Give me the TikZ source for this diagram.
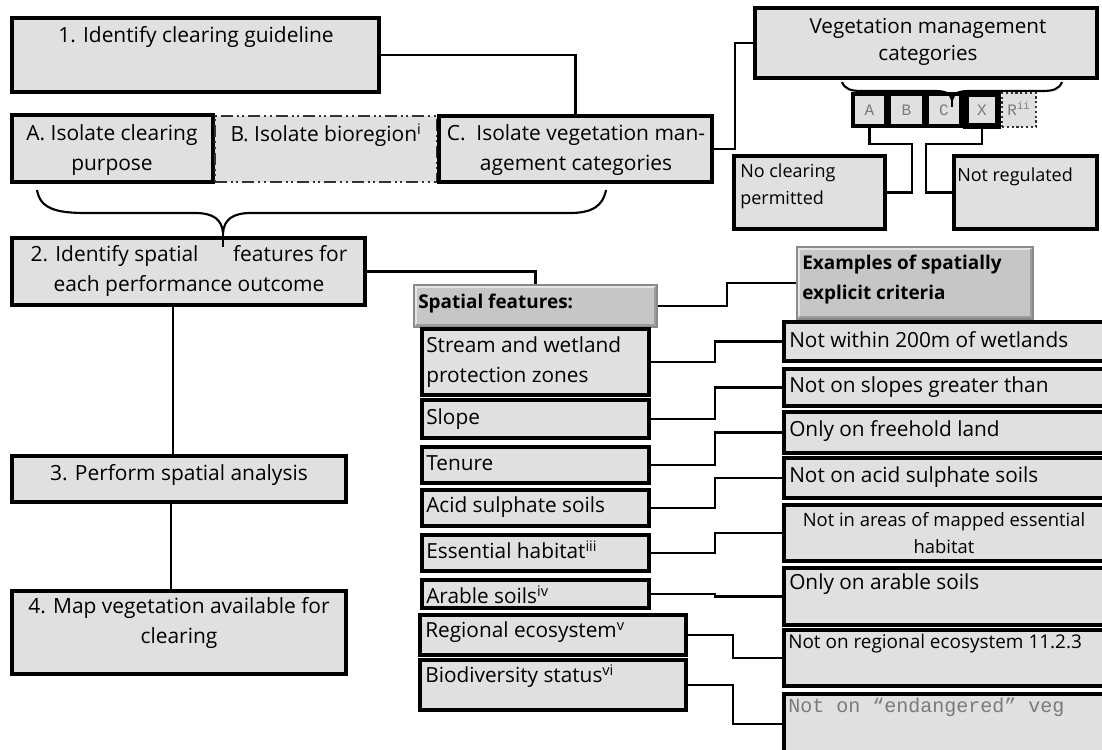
\documentclass[tikz,border=0pt]{standalone}
\usepackage{fontspec}
\setmainfont{Open Sans}
\newfontfamily\monofont{Liberation Mono}
\definecolor{boxfill}{HTML}{E0E0E0}
\definecolor{headfill}{HTML}{C6C6C6}
\definecolor{headline}{HTML}{8A8A8A}
\definecolor{headlight}{HTML}{E4E4E4}
\definecolor{headdark}{HTML}{9C9C9C}
\definecolor{monogray}{HTML}{7A7A7A}
% rectangle node given by the corners of its border line
\newcommand\mkbox[6]{%
  \node[#1, minimum width={(#5-#3)*0.75pt}, minimum height={(#6-#4)*0.75pt}]
    (#2) at ({(#3+#5)/2},{(#4+#6)/2}) {};}
\tikzset{
  stepbox/.style={draw=black, line width=3.2pt, fill=boxfill, inner sep=0pt},
  dashbox/.style={draw=black!80, line width=1.8pt, fill=boxfill, inner sep=0pt,
    dash pattern=on 9pt off 3pt on 1.5pt off 2.5pt on 1.5pt off 3pt},
  dotbox/.style={draw=black!80, line width=1.6pt, fill=boxfill, inner sep=0pt, dotted},
  headbox/.style={draw=headline, line width=1pt, fill=headfill, inner sep=0pt,
    path picture={
      \draw[headlight, line width=2.4pt]
        ([xshift=1.2pt,yshift=1.2pt]path picture bounding box.south west)
        |- ([xshift=-1.2pt,yshift=-1.2pt]path picture bounding box.north east);
      \draw[headdark, line width=2.4pt]
        ([xshift=1.2pt,yshift=1.2pt]path picture bounding box.south west)
        -| ([xshift=-1.2pt,yshift=-1.2pt]path picture bounding box.north east);
    }},
  conn/.style={line width=1.6pt, draw=black},
  bracepath/.style={line width=1.6pt, draw=black},
  txt/.style={inner sep=0pt, text=black, font=\fontsize{15.7}{22.5}\selectfont},
  itemtxt/.style={inner sep=0pt, text=black, anchor=west, align=left,
    font=\fontsize{15.6}{22.5}\selectfont},
  smalltxt/.style={inner sep=0pt, text=black, anchor=west, align=left,
    font=\fontsize{13.5}{20.25}\selectfont},
  headtxt/.style={inner sep=0pt, text=black, anchor=west, align=left,
    font=\fontsize{14.2}{22.5}\selectfont\bfseries},
  monotxt/.style={inner sep=0pt, text=monogray, font=\fontsize{12}{13}\monofont},
}
\begin{document}
\begin{tikzpicture}[x=0.75pt, y=-0.75pt]
\useasboundingbox (0,0) rectangle (1102,749);

% ---- step boxes on the left
\mkbox{stepbox}{b1}{12}{18}{379}{92}
\mkbox{stepbox}{bA}{12}{115}{213}{182}
\mkbox{dashbox}{bB}{215}{116}{437}{182}
\mkbox{stepbox}{bC}{439}{116}{712}{182}
\mkbox{stepbox}{b2}{12}{238}{365}{305}
\mkbox{stepbox}{b3}{12}{456}{346}{502}
\mkbox{stepbox}{b4}{12}{591}{346}{674}

\node[txt] (t1) at (196,37) {1. Identify clearing guideline};
\node[txt, align=center] (tA) at (112,150) {A. Isolate clearing\\purpose};
\node[txt] (tB) at (326,135) {B. Isolate bioregion\textsuperscript{i}};
\node[txt, align=center] (tC) at (576,150) {C.\ \ Isolate vegetation man-\\agement categories};
\node[txt, align=center] (t2) at (189,271.5) {2. Identify spatial\hspace{26pt}features for\\each performance outcome};
\node[txt] (t3) at (179,475) {3. Perform spatial analysis};
\node[txt, align=center] (t4) at (179,623) {4. Map vegetation available for\\clearing};

% ---- vegetation management categories
\mkbox{stepbox}{veg}{755}{8}{1097}{78}
\node[txt, align=center, font=\fontsize{15.5}{20.25}\selectfont] (tveg) at (928,42) {Vegetation management\\categories};
\mkbox{stepbox}{sA}{853}{94}{886}{126}
\mkbox{stepbox}{sB}{889}{94}{924}{126}
\mkbox{stepbox}{sC}{927}{94}{961}{126}
\mkbox{stepbox, line width=4pt}{sX}{966}{94}{998}{126}
\mkbox{dotbox}{sR}{1002}{93}{1036}{127}
\node[monotxt] (lA) at (869.5,110) {A};
\node[monotxt] (lB) at (906.5,110) {B};
\node[monotxt] (lC) at (944,110) {C};
\node[monotxt] (lX) at (982,110) {X};
\node[monotxt] (lR) at (1019,109) {R\textsuperscript{ii}};
\mkbox{stepbox}{noclr}{734}{156}{885}{229}
\mkbox{stepbox}{notreg}{954}{156}{1097}{229}
\node[smalltxt] (tnoclr) at (740,186.5) {No clearing\\permitted};
\node[smalltxt] (tnotreg) at (957,177) {Not regulated};

% ---- spatial features
\mkbox{headbox}{sfh}{414}{285}{657}{327}
\node[headtxt] (tsf) at (418,304) {Spatial features:};
\mkbox{stepbox}{s1}{422}{329}{649}{395}
\mkbox{stepbox}{s2}{422}{400}{649}{438}
\mkbox{stepbox}{s3}{422}{447}{649}{483}
\mkbox{stepbox}{s4}{422}{490}{649}{526}
\mkbox{stepbox}{s5}{422}{535}{649}{571}
\mkbox{stepbox}{s6}{422}{580}{649}{608}
\mkbox{stepbox}{s7}{420}{615}{686}{655}
\mkbox{stepbox}{s8}{420}{660}{686}{710}
\node[itemtxt] (ts1) at (426,362) {Stream and wetland\\protection zones};
\node[itemtxt] (ts2) at (426,419) {Slope};
\node[itemtxt] (ts3) at (426,463) {Tenure};
\node[itemtxt] (ts4) at (426,507) {Acid sulphate soils};
\node[itemtxt] (ts5) at (426,550) {Essential habitat\textsuperscript{iii}};
\node[itemtxt] (ts6) at (426,595) {Arable soils\textsuperscript{iv}};
\node[itemtxt] (ts7) at (425,632) {Regional ecosystem\textsuperscript{v}};
\node[itemtxt] (ts8) at (425,676) {Biodiversity status\textsuperscript{vi}};

% ---- example criteria
\mkbox{headbox}{exh}{797}{247}{1033}{319}
\node[headtxt] (tex) at (802,280) {Examples of spatially\\explicit criteria};
\mkbox{stepbox}{r1}{784}{322}{1106}{361}
\mkbox{stepbox}{r2}{784}{369}{1106}{406}
\mkbox{stepbox}{r3}{784}{412}{1106}{453}
\mkbox{stepbox}{r4}{784}{458}{1106}{498}
\mkbox{stepbox}{r5}{784}{505}{1106}{561}
\mkbox{stepbox}{r6}{784}{568}{1106}{625}
\mkbox{stepbox}{r7}{784}{630}{1106}{686}
\mkbox{stepbox}{r8}{784}{694}{1106}{754}
\node[itemtxt] (tr1) at (789,340) {Not within 200m of wetlands};
\node[itemtxt] (tr2) at (789,387) {Not on slopes greater than};
\node[itemtxt] (tr3) at (789,431) {Only on freehold land};
\node[itemtxt] (tr4) at (789,477) {Not on acid sulphate soils};
\node[txt, align=center, font=\fontsize{13.8}{20.25}\selectfont] (tr5) at (944,533.5) {Not in areas of mapped essential\\habitat};
\node[itemtxt] (tr6) at (789,584) {Only on arable soils};
\node[itemtxt, font=\fontsize{14.2}{20}\selectfont] (tr7) at (788,644) {Not on regional ecosystem 11.2.3};
\node[monotxt, anchor=west, font=\fontsize{15}{16}\monofont] (tr8) at (788,707) {Not on “endangered” veg};

% ---- connectors
\coordinate (v23) at (173,0);
\coordinate (v34) at (171,0);
\draw[conn] (b1.east) -| (bC.north);
\draw[conn] (bC.east) -- ++(21,0) |- (veg.west);
\draw[conn] (sA.south) |- (912,144) |- (noclr.east);
\draw[conn] (sX.south) |- (926,144) |- (notreg.west);
\draw[conn] (b2.east) -| (sfh.north);
\draw[conn] (b2.south -| v23) -- (b3.north -| v23);
\draw[conn] (b3.south -| v34) -- (b4.north -| v34);
\draw[conn] (sfh.east) -- ++(69,0) |- (exh.west);
\draw[conn] (s1.east) -- ++(64,0) |- (r1.west);
\draw[conn] (s2.east) -- ++(64,0) |- (r2.west);
\draw[conn] (s3.east) -- ++(64,0) |- (r3.west);
\draw[conn] (s4.east) -- ++(64,0) |- (r4.west);
\draw[conn] (s5.east) -- ++(64,0) |- (r5.west);
\draw[conn] (s6.east) -- ++(64,0) |- (r6.west);
\draw[conn] (s7.east) -- ++(45,0) |- (r7.west);
\draw[conn] (s8.east) -- ++(45,0) |- (r8.west);

% ---- braces
\draw[bracepath] (37,190) .. controls (40,208) and (55,213) .. (85,213)
  -- (195,213) .. controls (214,213) and (222,220) .. (223,233)
  .. controls (224,220) and (232,213) .. (251,213)
  -- (570,213) .. controls (592,213) and (603,206) .. (606,190);
\draw[bracepath] (223,233) -- (223,247);
\draw[bracepath] (842,82) .. controls (845,89) and (850,91) .. (862,91)
  -- (935,91) .. controls (946,91) and (951,94) .. (952,100)
  .. controls (953,94) and (958,91) .. (969,91)
  -- (1042,91) .. controls (1054,91) and (1059,89) .. (1062,82);
\draw[bracepath] (952,100) -- (952,107);
\end{tikzpicture}
\end{document}
